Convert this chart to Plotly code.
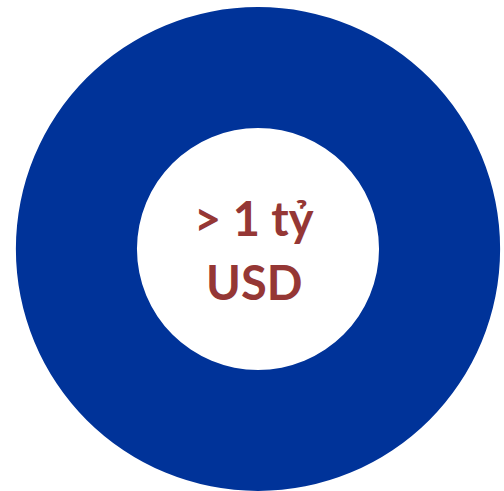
import plotly.graph_objects as go

labels = ["Giá trị"]
values = [1]
center_lines = ["> 1 tỷ", "USD"]

W, H = 504, 491
cx, cy, r = 258, 249, 242

fig = go.Figure(go.Pie(
    labels=labels, values=values, hole=0.5,
    marker=dict(colors=["#003399"], line=dict(width=0)),
    textinfo="none", hoverinfo="label+value", sort=False,
    domain=dict(x=[(cx - r) / W, (cx + r) / W], y=[(H - cy - r) / H, (H - cy + r) / H]),
    showlegend=False,
))

line_y = [218, 282]
for txt, yy in zip(center_lines, line_y):
    fig.add_annotation(
        text="<b>" + txt + "</b>", x=254 / W, y=1 - yy / H, xref="paper", yref="paper",
        showarrow=False, xanchor="center", yanchor="middle",
        font=dict(family="Lato", size=47, color="#953735"),
    )

fig.update_layout(width=W, height=H, margin=dict(l=0, r=0, t=0, b=0),
                  paper_bgcolor="white", plot_bgcolor="white")
fig.write_html("out.html", config={"displayModeBar": False},
               post_script="document.body.style.margin='0';document.body.style.overflow='hidden';")
